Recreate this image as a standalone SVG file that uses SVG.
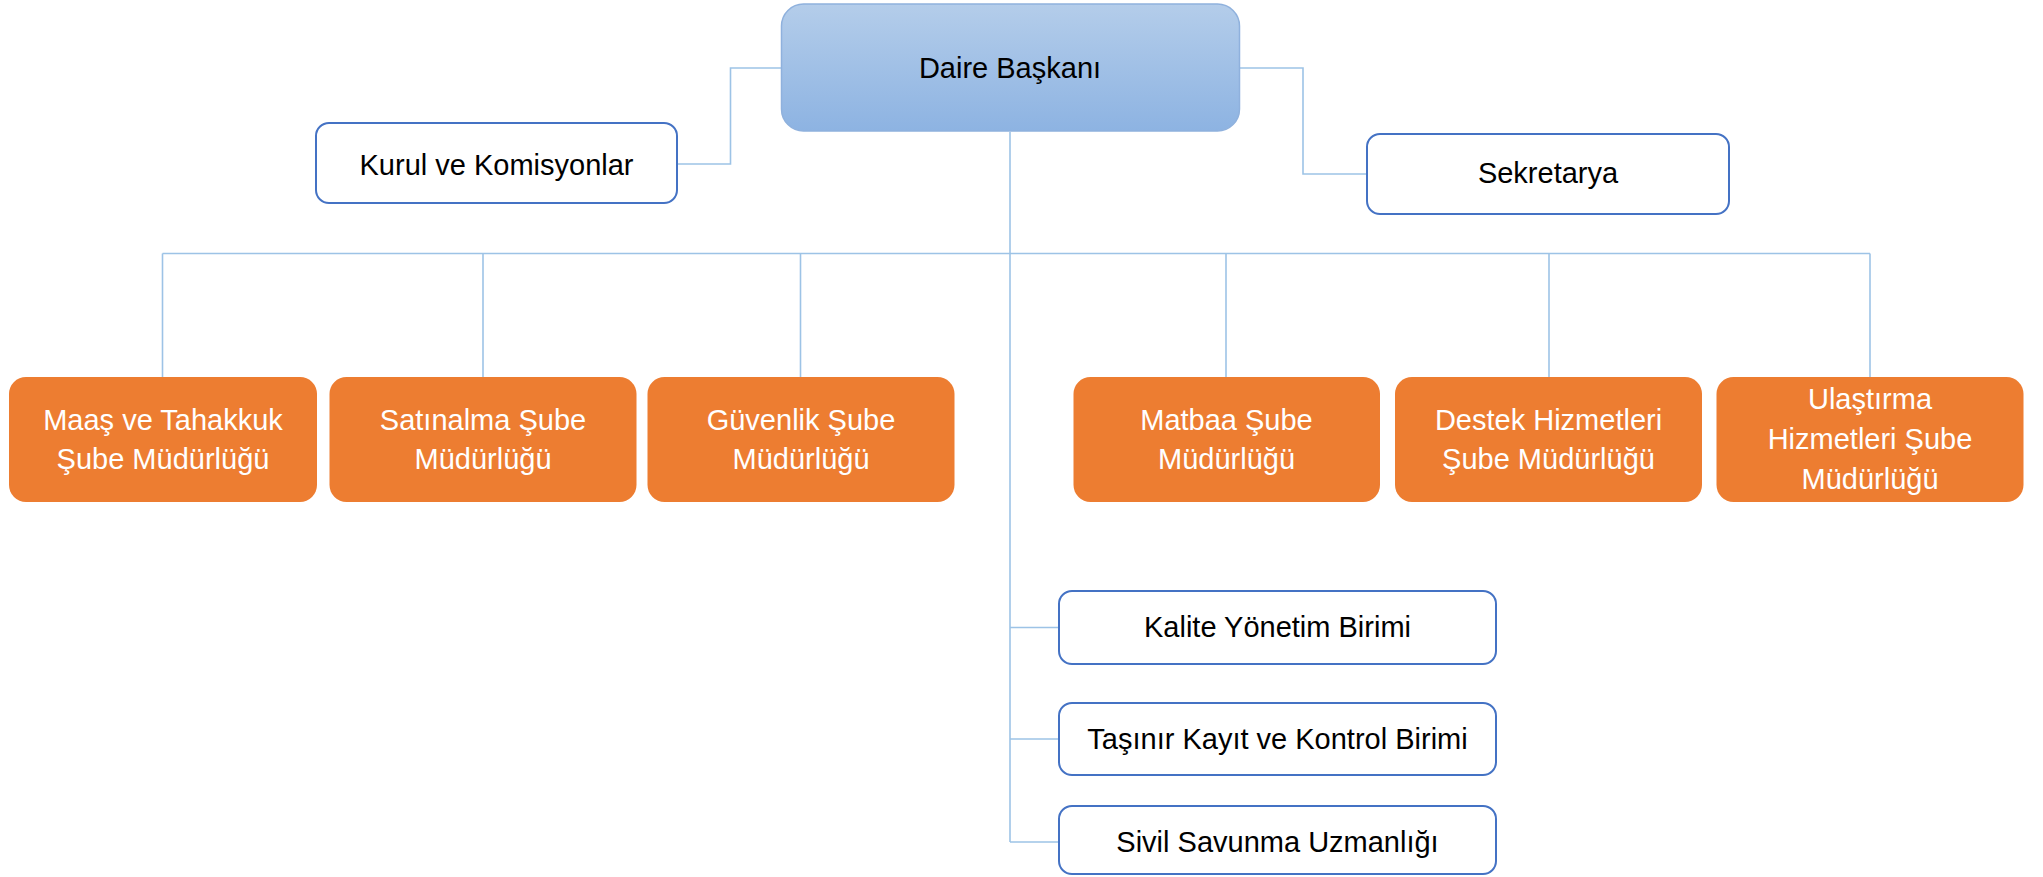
<svg xmlns="http://www.w3.org/2000/svg" width="2043" height="877" viewBox="0 0 2043 877">
<defs>
<linearGradient id="gHead" x1="0" y1="0" x2="0" y2="1">
<stop offset="0" stop-color="#b4cdea"/>
<stop offset="1" stop-color="#8db3e2"/>
</linearGradient>
</defs>
<style>
text{font-family:"Liberation Sans",Arial,sans-serif;font-size:29px;text-anchor:middle}
.wbox{fill:#ffffff;stroke:#4472c4;stroke-width:2}
.obox{fill:#ed7d31;stroke:none}
.otxt{fill:#ffffff}
.dtxt{fill:#000000}
.conn{fill:none;stroke:#9dc3e6;stroke-width:1.6}
</style>
<rect width="2043" height="877" fill="#ffffff"/>
<g id="connectors">
<polyline class="conn" points="677,164 730.5,164 730.5,68 781,68"/>
<polyline class="conn" points="1239,68 1303,68 1303,174 1367,174"/>
<line class="conn" x1="1010" y1="132" x2="1010" y2="842"/>
<line class="conn" x1="162.5" y1="253.5" x2="1870" y2="253.5"/>
<line class="conn" x1="162.5" y1="253.5" x2="162.5" y2="377"/>
<line class="conn" x1="483" y1="253.5" x2="483" y2="377"/>
<line class="conn" x1="800.5" y1="253.5" x2="800.5" y2="377"/>
<line class="conn" x1="1226" y1="253.5" x2="1226" y2="377"/>
<line class="conn" x1="1549" y1="253.5" x2="1549" y2="377"/>
<line class="conn" x1="1870" y1="253.5" x2="1870" y2="377"/>
<line class="conn" x1="1010" y1="627.5" x2="1059" y2="627.5"/>
<line class="conn" x1="1010" y1="739" x2="1059" y2="739"/>
<line class="conn" x1="1010" y1="842" x2="1059" y2="842"/>
</g>
<g id="daire">
<rect x="781.5" y="4" width="458" height="127" rx="22" fill="url(#gHead)" stroke="#8fb1dd" stroke-width="1.5"/>
<text class="dtxt" x="1010" y="78">Daire Başkanı</text>
</g>
<g id="kurul">
<rect class="wbox" x="316" y="123" width="361" height="80" rx="13"/>
<text class="dtxt" x="496.5" y="175">Kurul ve Komisyonlar</text>
</g>
<g id="sekretarya">
<rect class="wbox" x="1367" y="134" width="362" height="80" rx="13"/>
<text class="dtxt" x="1548" y="183">Sekretarya</text>
</g>
<g id="maas">
<rect class="obox" x="9" y="377" width="308" height="125" rx="17"/>
<text class="otxt" x="163" y="430">Maaş ve Tahakkuk</text>
<text class="otxt" x="163" y="469">Şube Müdürlüğü</text>
</g>
<g id="satinalma">
<rect class="obox" x="329.5" y="377" width="307" height="125" rx="17"/>
<text class="otxt" x="483" y="430">Satınalma Şube</text>
<text class="otxt" x="483" y="469">Müdürlüğü</text>
</g>
<g id="guvenlik">
<rect class="obox" x="647.5" y="377" width="307" height="125" rx="17"/>
<text class="otxt" x="801" y="430">Güvenlik Şube</text>
<text class="otxt" x="801" y="469">Müdürlüğü</text>
</g>
<g id="matbaa">
<rect class="obox" x="1073.5" y="377" width="306.5" height="125" rx="17"/>
<text class="otxt" x="1226.5" y="430">Matbaa Şube</text>
<text class="otxt" x="1226.5" y="469">Müdürlüğü</text>
</g>
<g id="destek">
<rect class="obox" x="1395" y="377" width="307" height="125" rx="17"/>
<text class="otxt" x="1548.5" y="430">Destek Hizmetleri</text>
<text class="otxt" x="1548.5" y="469">Şube Müdürlüğü</text>
</g>
<g id="ulastirma">
<rect class="obox" x="1716.5" y="377" width="307" height="125" rx="17"/>
<text class="otxt" x="1870" y="409">Ulaştırma</text>
<text class="otxt" x="1870" y="449">Hizmetleri Şube</text>
<text class="otxt" x="1870" y="489">Müdürlüğü</text>
</g>
<g id="kalite">
<rect class="wbox" x="1059" y="591" width="437" height="73" rx="13"/>
<text class="dtxt" x="1277.5" y="637">Kalite Yönetim Birimi</text>
</g>
<g id="tasinir">
<rect class="wbox" x="1059" y="703" width="437" height="72" rx="13"/>
<text class="dtxt" x="1277.5" y="749">Taşınır Kayıt ve Kontrol Birimi</text>
</g>
<g id="sivil">
<rect class="wbox" x="1059" y="806" width="437" height="68" rx="13"/>
<text class="dtxt" x="1277.5" y="852">Sivil Savunma Uzmanlığı</text>
</g>
</svg>
